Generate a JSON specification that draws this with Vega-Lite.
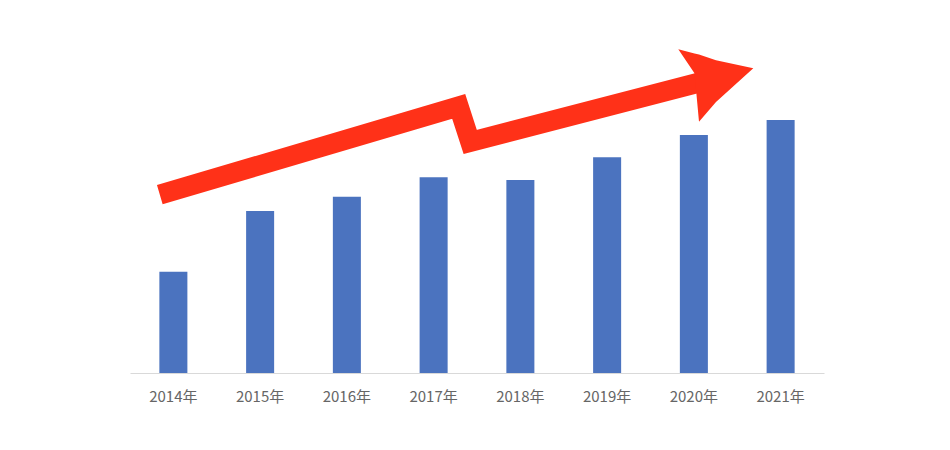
{
  "$schema": "https://vega.github.io/schema/vega-lite/v6.json",
  "width": 694,
  "height": 350,
  "padding": {"left": 119, "top": 23, "right": 137, "bottom": 5},
  "background": "white",
  "config": {"view": {"stroke": null}},
  "datasets": {
    "bars": [
      {"year": "2014年", "value": 101.3},
      {"year": "2015年", "value": 162},
      {"year": "2016年", "value": 176.3},
      {"year": "2017年", "value": 195.7},
      {"year": "2018年", "value": 193},
      {"year": "2019年", "value": 215.7},
      {"year": "2020年", "value": 238},
      {"year": "2021年", "value": 253}
    ],
    "shaft": [
      {"t": 2013.8435, "v": 178.3, "o": 1},
      {"t": 2017.289, "v": 266.7, "o": 2},
      {"t": 2017.422, "v": 231, "o": 3},
      {"t": 2020.1744, "v": 293, "o": 4}
    ],
    "head": [
      {"t": 2019.8205, "v": 323.7, "v2": 323.7},
      {"t": 2020.0072, "v": 319.6, "v2": 299.7},
      {"t": 2020.0591, "v": 318.5, "v2": 251.3},
      {"t": 2020.255, "v": 312.7, "v2": 271},
      {"t": 2020.685, "v": 304.7, "v2": 304.7}
    ]
  },
  "layer": [
    {
      "data": {"name": "bars"},
      "mark": {"type": "bar", "color": "#4B73BF"},
      "encoding": {
        "x": {
          "field": "year", "type": "nominal", "sort": null,
          "scale": {"paddingInner": 0.677, "paddingOuter": 0.3385},
          "axis": {
            "title": null, "labelAngle": 0, "ticks": false,
            "domainColor": "#D9D9D9", "domainWidth": 1,
            "labelColor": "#666666", "labelFont": "Noto Sans CJK SC",
            "labelFontSize": 15, "labelPadding": 16
          }
        },
        "y": {
          "field": "value", "type": "quantitative",
          "scale": {"domain": [0, 350], "nice": false, "zero": true},
          "axis": null
        }
      }
    },
    {
      "data": {"name": "shaft"},
      "mark": {"type": "line", "color": "#FF3118", "strokeWidth": 20, "strokeJoin": "miter", "strokeCap": "butt"},
      "encoding": {
        "x": {"field": "t", "type": "quantitative", "scale": {"domain": [2013.5, 2021.5], "nice": false, "zero": false}, "axis": null},
        "y": {"field": "v", "type": "quantitative"},
        "order": {"field": "o"}
      }
    },
    {
      "data": {"name": "head"},
      "mark": {"type": "area", "color": "#FF3118", "opacity": 1},
      "encoding": {
        "x": {"field": "t", "type": "quantitative", "scale": {"domain": [2013.5, 2021.5], "nice": false, "zero": false}, "axis": null},
        "y": {"field": "v", "type": "quantitative"},
        "y2": {"field": "v2"}
      }
    }
  ],
  "resolve": {"scale": {"x": "independent"}, "axis": {"x": "independent"}}
}
